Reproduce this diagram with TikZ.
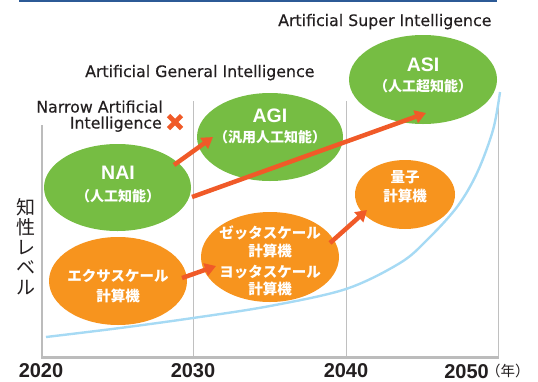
\documentclass[tikz,border=0pt]{standalone}
\usepackage{fontspec}
\setmainfont{Liberation Sans}
\newfontfamily\lblfont{DejaVu Sans}[FakeBold=0.3]
\newfontfamily\jpfont{Noto Sans CJK JP}
\usetikzlibrary{shapes.geometric,arrows.meta}
\definecolor{aigreen}{RGB}{118,189,67}
\definecolor{aiorange}{RGB}{247,148,30}
\definecolor{aired}{RGB}{240,90,40}
\definecolor{aiblue}{RGB}{166,218,244}
\definecolor{aigrid}{RGB}{192,192,192}
\definecolor{aiaxis}{RGB}{188,188,188}
\definecolor{aitop}{RGB}{44,90,150}
\definecolor{aitxt}{RGB}{35,31,32}
\tikzset{
  bub/.style={ellipse, inner sep=0pt, draw=none},
  ttl/.style={text=white, inner sep=0pt, font=\bfseries\fontsize{19.5}{19.5}\selectfont},
  subl/.style={text=white, inner sep=0pt, font=\jpfont\bfseries\fontsize{14}{14}\selectfont},
  otx/.style={text=white, inner sep=0pt, font=\jpfont\bfseries\fontsize{14.5}{14.5}\selectfont},
  lbl/.style={text=aitxt, inner sep=0pt, font=\lblfont\fontsize{15.8}{16}\selectfont},
  yr/.style={text=aitxt, inner sep=0pt, font=\bfseries\fontsize{20}{20}\selectfont},
  gridln/.style={draw=aigrid, line width=0.9pt},
  axisln/.style={draw=aiaxis, line width=2.3pt},
  prog/.style={draw=aired, line width=4.5pt, -{Triangle[width=13pt,length=11pt]}},
  xmark/.style={draw=aired, line width=4.6pt},
  curve/.style={draw=aiblue, line width=2.4pt}
}
\begin{document}
\begin{tikzpicture}[x=1pt,y=-1pt]
\useasboundingbox (0,0) rectangle (538,381);
% top rule
\draw[draw=aitop, line width=1.8pt] (19,0.9) -- (497,0.9);
% grid lines
\draw[gridln] (193,101) -- (193,357);
\draw[gridln] (346,101) -- (346,357);
\draw[gridln] (498,101) -- (498,357);
% axes
\draw[axisln] (42,125) -- (42,357.5) -- (498.5,357.5);
% growth curve
\draw[curve] plot[smooth, tension=0.55] coordinates {(46,337) (120,328) (193,318) (270,306) (346,289) (400,263) (427,240) (457,207) (477,173) (493,130) (500,92)};
% ellipses
\node[bub, fill=aigreen, minimum width=147pt, minimum height=87pt] (nai) at (117.5,187.5) {};
\node[bub, fill=aigreen, minimum width=146pt, minimum height=88pt] (agi) at (270,137) {};
\node[bub, fill=aigreen, minimum width=148pt, minimum height=89pt] (asi) at (423,79.5) {};
\node[bub, fill=aiorange, minimum width=138pt, minimum height=88pt] (exa) at (118,281) {};
\node[bub, fill=aiorange, minimum width=138pt, minimum height=90pt] (zet) at (270,257) {};
\node[bub, fill=aiorange, minimum width=100pt, minimum height=69pt] (qua) at (405,194.5) {};
% ellipse texts
\node[ttl] (naiT) at (118,172.5) {NAI};
\node[subl] (naiS) at (118,196.5) {（人工知能）};
\node[ttl] (agiT) at (270,116) {AGI};
\node[subl] (agiS) at (270,137) {（汎用人工知能）};
\node[ttl] (asiT) at (423,65) {ASI};
\node[subl] (asiS) at (423,86) {（人工超知能）};
\node[otx] (exaA) at (118,276) {エクサスケール};
\node[otx] (exaB) at (118,296) {計算機};
\node[otx] (zetA) at (270,233) {ゼッタスケール};
\node[otx] (zetB) at (270,250.5) {計算機};
\node[otx] (yotA) at (270,272) {ヨッタスケール};
\node[otx] (yotB) at (270,289) {計算機};
\node[otx] (quaA) at (405,177) {量子};
\node[otx] (quaB) at (405,196) {計算機};
% labels
\node[lbl, anchor=base west] (asiL) at (278,26) {Artificial Super Intelligence};
\node[lbl, anchor=base west] (agiL) at (85,77) {Artificial General Intelligence};
\node[lbl, anchor=base east] (naiL1) at (163,112.5) {Narrow Artificial};
\node[lbl, anchor=base east] (naiL2) at (162,128.5) {Intelligence};
% X mark
\draw[xmark] (168.5,115.5) -- (181.5,128.5) (168.5,128.5) -- (181.5,115.5);
% y axis label
\node[text=aitxt, inner sep=0pt, align=center, font=\jpfont\fontsize{19}{20}\selectfont] (ylab) at (26,247) {知\\性\\レ\\ベ\\ル};
% years
\node[yr] (y2020) at (41,370.5) {2020};
\node[yr] (y2030) at (193,370.5) {2030};
\node[yr] (y2040) at (346,370.5) {2040};
\node[yr, anchor=base east] (y2050) at (489,378) {2050};
\node[text=aitxt, inner sep=0pt, anchor=base west, font=\jpfont\fontsize{14.5}{14.5}\selectfont] (nen) at (486,376.5) {（年）};
% arrows
\coordinate (a1s) at (174,165); \coordinate (a1e) at (213,137);
\coordinate (a2s) at (192,197); \coordinate (a2e) at (426,113);
\coordinate (a3s) at (182,278); \coordinate (a3e) at (216,266);
\coordinate (a4s) at (330,243); \coordinate (a4e) at (367,210);
\draw[prog] (a1s) -- (a1e);
\draw[prog] (a2s) -- (a2e);
\draw[prog] (a3s) -- (a3e);
\draw[prog] (a4s) -- (a4e);
\end{tikzpicture}
\end{document}
